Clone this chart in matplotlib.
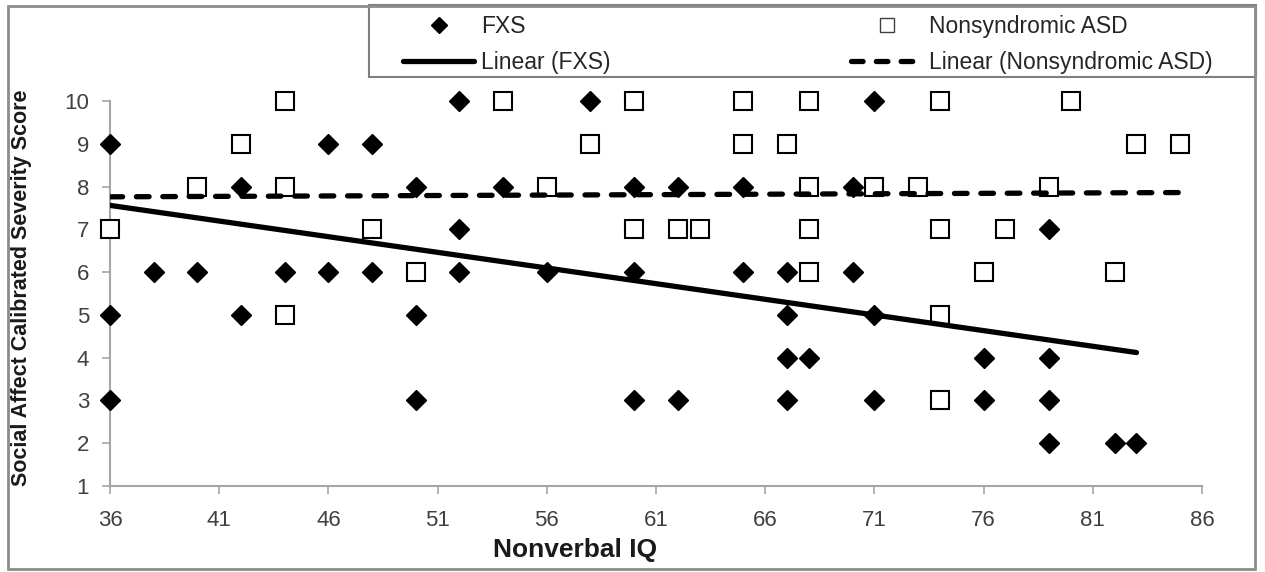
import numpy as np
import matplotlib
matplotlib.use("Agg")
import matplotlib.pyplot as plt
from matplotlib.lines import Line2D
from matplotlib.patches import Rectangle

plt.rcParams['font.family'] = ['Liberation Sans', 'DejaVu Sans']

# FXS group (diamonds)
fxs_iq = [36, 36, 36, 38, 40, 42, 42, 44, 46, 46, 48, 48, 50, 50, 50, 52, 52, 52,
          54, 56, 58, 60, 60, 60, 62, 62, 65, 65, 67, 67, 67, 67, 68, 70, 70,
          71, 71, 71, 76, 76, 79, 79, 79, 79, 82, 83]
fxs_score = [9, 5, 3, 6, 6, 8, 5, 6, 9, 6, 9, 6, 8, 5, 3, 10, 7, 6,
             8, 6, 10, 8, 6, 3, 8, 3, 8, 6, 6, 5, 4, 3, 4, 8, 6,
             10, 5, 3, 4, 3, 7, 4, 3, 2, 2, 2]

# Nonsyndromic ASD group (open squares)
asd_iq = [36, 40, 42, 44, 44, 44, 48, 50, 54, 56, 58, 60, 60, 62, 63, 65, 65, 67,
          68, 68, 68, 68, 71, 73, 74, 74, 74, 74, 76, 77, 79, 80, 82, 83, 85]
asd_score = [7, 8, 9, 10, 8, 5, 7, 6, 10, 8, 9, 10, 7, 7, 7, 10, 9, 9,
             10, 8, 7, 6, 8, 8, 10, 7, 5, 3, 6, 7, 8, 10, 6, 9, 9]

# trend line end values (overlapping points hide some data)
fxs_trend_x = [36, 83]
fxs_trend_y = [7.56, 4.12]
asd_trend_x = [36, 85]
asd_trend_y = [7.76, 7.86]

x_ticks = list(range(36, 87, 5))
y_ticks = list(range(1, 11))

W, H = 1265, 572
fig = plt.figure(figsize=(W / 100, H / 100), dpi=100)
ax = fig.add_axes([110 / W, 1 - 486 / H, (1202 - 110) / W, (486 - 101) / H])

ax.set_xlim(36, 86)
ax.set_ylim(1, 10)
ax.set_xticks(x_ticks)
ax.set_yticks(y_ticks)
for s in ['top', 'right']:
    ax.spines[s].set_visible(False)
for s in ['left', 'bottom']:
    ax.spines[s].set_color('#a6a6a6')
    ax.spines[s].set_linewidth(1.5)
ax.tick_params(direction='out', length=6, width=1.2, color='#a6a6a6',
               labelcolor='#404040', labelsize=16)
ax.tick_params(axis='x', pad=11)
ax.tick_params(axis='y', pad=9)

ax.plot(fxs_iq, fxs_score, 'D', ms=10.5, color='black', clip_on=False, zorder=3)
ax.plot(asd_iq, asd_score, 's', ms=13, mfc='white', mec='black', mew=1.5,
        clip_on=False, zorder=3)

# linear trend lines
ax.plot(fxs_trend_x, fxs_trend_y, color='black', lw=3.8, solid_capstyle='round',
        zorder=4)
ax.plot(asd_trend_x, asd_trend_y, color='black', lw=3.8, linestyle=(0, (2.4, 2.6)),
        dash_capstyle='round', zorder=4)

fig.text(22 / W, 1 - 288 / H, 'Social Affect Calibrated Severity Score',
         rotation=90, ha='center', va='center', fontsize=15.5, fontweight='bold',
         color='#1a1a1a')
fig.text(575 / W, 1 - 550 / H, 'Nonverbal IQ', ha='center', va='center',
         fontsize=19, fontweight='bold', color='#1a1a1a')

handles = [
    Line2D([], [], marker='D', ls='none', ms=10.5, color='black'),
    Line2D([], [], color='black', lw=3.8, solid_capstyle='round'),
    Line2D([], [], marker='s', ls='none', ms=13, mfc='white', mec='#404040', mew=1),
    Line2D([], [], color='black', lw=3.8, linestyle=(0, (2.2, 2.5)),
           dash_capstyle='round'),
]
labels = ['FXS', 'Linear (FXS)', 'Nonsyndromic ASD', 'Linear (Nonsyndromic ASD)']
fig.legend(handles, labels, ncol=2, frameon=False, loc='upper left',
           bbox_to_anchor=(403 / W, 1 - 15 / H), bbox_transform=fig.transFigure,
           fontsize=16.5, handlelength=3.1, handletextpad=0.3, columnspacing=10.5,
           labelspacing=0.55, markerscale=0.75, borderpad=0, borderaxespad=0,
           labelcolor='#262626')

# legend box and outer chart frame
fig.patches.append(Rectangle((369 / W, 1 - 77 / H), (1256 - 369) / W, 72 / H,
                             transform=fig.transFigure, fill=False,
                             edgecolor='#7f7f7f', lw=1.5))
fig.patches.append(Rectangle((8 / W, 1 - 569 / H), (1255 - 8) / W, 563 / H,
                             transform=fig.transFigure, fill=False,
                             edgecolor='#8c8c8c', lw=2))

fig.savefig('out.png', dpi=100)
